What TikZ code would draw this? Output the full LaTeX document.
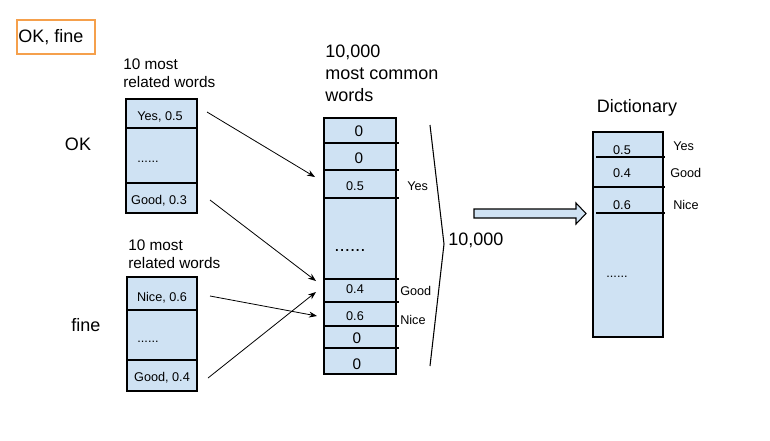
\documentclass[tikz,border=0pt]{standalone}
\usepackage{fontspec}
\setmainfont{Liberation Sans}
\usetikzlibrary{fit,arrows.meta}
\definecolor{cellblue}{HTML}{CFE2F3}
\definecolor{boxorange}{HTML}{F5A04C}
\tikzset{
  colbox/.style={draw=black, fill=cellblue, line width=0.8pt, inner sep=0pt},
  divider/.style={draw=black, line width=0.8pt},
  bigtxt/.style={font=\fontsize{13.5}{16.5}\selectfont, inner sep=0pt},
  midtxt/.style={font=\fontsize{11.5}{13}\selectfont, inner sep=0pt},
  smalltxt/.style={font=\fontsize{9.5}{11}\selectfont, inner sep=0pt},
  conn/.style={draw=black, line width=0.6pt, -{Stealth[length=6pt,width=4.5pt]}},
  bracket/.style={draw=black, line width=0.8pt},
}
\begin{document}
\begin{tikzpicture}[x=0.75pt,y=-0.75pt]
\useasboundingbox (0,0) rectangle (770,440);

% title box
\node[draw=boxorange, line width=1.5pt, fit={(17,20)(95,54)}, inner sep=0pt] (titlebox) {};
\node[bigtxt, anchor=west] (title) at (18,37) {OK, fine};

% word labels
\node[bigtxt] (ok) at (78,144) {OK};
\node[bigtxt] (fine) at (86,325) {fine};

% related words labels
\node[midtxt, align=left, anchor=north west] (rel1) at (123,59) {10 most\\related words};
\node[midtxt, align=left, anchor=north west] (rel2) at (128,240) {10 most\\related words};

% OK box
\node[colbox, fit={(126,99)(197,213)}] (okbox) {};
\draw[divider] (126,128) -- (198,128);
\draw[divider] (126,183) -- (198,183);
\node[smalltxt] (okyes) at (160,117) {Yes, 0.5};
\node[smalltxt] (okdots) at (148,162) {......};
\node[smalltxt] (okgood) at (159,201) {Good, 0.3};

% fine box
\node[colbox, fit={(127,277)(197,391)}] (finebox) {};
\draw[divider] (127,310) -- (198,310);
\draw[divider] (127,360) -- (198,360);
\node[smalltxt] (finenice) at (162,298) {Nice, 0.6};
\node[smalltxt] (finedots) at (148,342) {......};
\node[smalltxt] (finegood) at (162,378) {Good, 0.4};

% common words column
\node[bigtxt, align=left, anchor=north west] (common) at (325,45) {10,000\\most common\\words};
\node[colbox, fit={(324,118)(396,374)}] (combox) {};
\foreach \yy in {143,170,198,279,302,326,348} {
  \draw[divider] (324,\yy) -- (399,\yy);
}
\node[midtxt] (c1) at (359,131) {0};
\node[midtxt] (c2) at (359,158) {0};
\node[smalltxt] (c3) at (355,186) {0.5};
\node[font=\fontsize{14}{16}\selectfont, inner sep=0pt] (cdots) at (350,250) {......};
\node[smalltxt] (c4) at (355,289) {0.4};
\node[smalltxt] (c5) at (355,316) {0.6};
\node[midtxt] (c6) at (357,338) {0};
\node[midtxt] (c7) at (357,364) {0};
\node[smalltxt, anchor=west] (cyes) at (407,186) {Yes};
\node[smalltxt, anchor=west] (cgood) at (400,291) {Good};
\node[smalltxt, anchor=west] (cnice) at (400,320) {Nice};

% arrows
\coordinate (a1s) at (207,112); \coordinate (a1e) at (315,177);
\coordinate (a2s) at (210,200); \coordinate (a2e) at (316,281);
\coordinate (a3s) at (210,296); \coordinate (a3e) at (317,316);
\coordinate (a4s) at (208,378); \coordinate (a4e) at (316,292);
\draw[conn] (a1s) -- (a1e);
\draw[conn] (a2s) -- (a2e);
\draw[conn] (a3s) -- (a3e);
\draw[conn] (a4s) -- (a4e);

% bracket
\coordinate (bt) at (430,125);
\coordinate (bm) at (444,244);
\coordinate (bb) at (430,366);
\draw[bracket] (bt) -- (bm) -- (bb);
\node[bigtxt, anchor=west] (tenk) at (448,240) {10,000};

% block arrow
\draw[fill=cellblue, line width=0.8pt] (474,209) -- (576,209) -- (576,203) -- (586,213.5) -- (576,224) -- (576,218) -- (474,218) -- cycle;

% dictionary
\node[bigtxt] (dicttitle) at (637,108) {Dictionary};
\node[colbox, fit={(593,132)(663,337)}] (dictbox) {};
\draw[divider] (596,157) -- (665,157);
\draw[divider] (593,187) -- (665,187);
\draw[divider] (596,213) -- (665,213);
\node[smalltxt] (d1) at (622,150) {0.5};
\node[smalltxt] (d2) at (622,173) {0.4};
\node[smalltxt] (d3) at (622,205) {0.6};
\node[smalltxt] (ddots) at (617,277) {......};
\node[smalltxt, anchor=west] (dyes) at (673,146) {Yes};
\node[smalltxt, anchor=west] (dgood) at (670,173) {Good};
\node[smalltxt, anchor=west] (dnice) at (673,205) {Nice};
\end{tikzpicture}
\end{document}
